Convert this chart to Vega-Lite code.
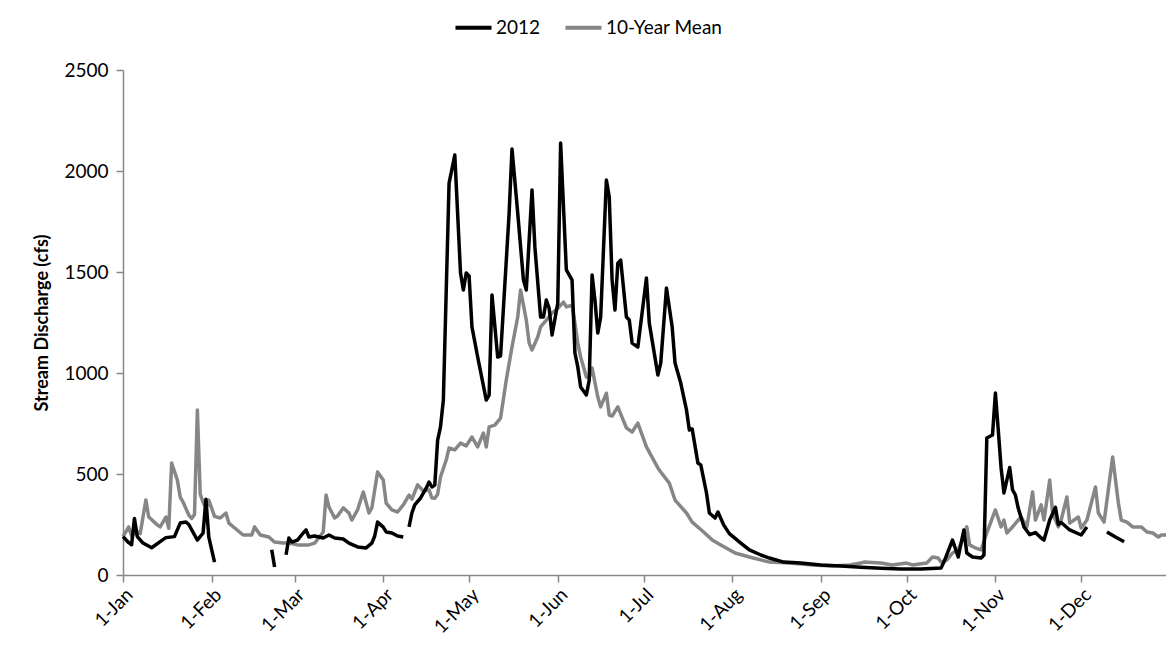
{
  "$schema": "https://vega.github.io/schema/vega-lite/v6.json",
  "width": 1044,
  "height": 505,
  "autosize": "none",
  "padding": {"left": 123, "top": 70, "right": 0, "bottom": 84},
  "background": "white",
  "config": {"font": "Lato", "view": {"stroke": null}, "axis": {"grid": false}},
  "datasets": {
    "y2012": [
      {"date":"2012-01-01","cfs":190},{"date":"2012-01-03","cfs":160},{"date":"2012-01-04","cfs":150},{"date":"2012-01-05","cfs":280},{"date":"2012-01-06","cfs":190},{"date":"2012-01-08","cfs":158},{"date":"2012-01-11","cfs":135},{"date":"2012-01-14","cfs":165},{"date":"2012-01-16","cfs":185},{"date":"2012-01-19","cfs":190},{"date":"2012-01-21","cfs":257},{"date":"2012-01-23","cfs":262},{"date":"2012-01-24","cfs":250},{"date":"2012-01-27","cfs":173},{"date":"2012-01-29","cfs":208},{"date":"2012-01-30","cfs":375},{"date":"2012-01-31","cfs":187},{"date":"2012-02-02","cfs":64},{"date":"2012-02-03","cfs":null},
      {"date":"2012-02-22","cfs":125},{"date":"2012-02-23","cfs":40},{"date":"2012-02-24","cfs":null},
      {"date":"2012-02-27","cfs":100},{"date":"2012-02-28","cfs":183},{"date":"2012-02-29","cfs":163},{"date":"2012-03-02","cfs":173},{"date":"2012-03-04","cfs":208},{"date":"2012-03-05","cfs":223},{"date":"2012-03-06","cfs":188},{"date":"2012-03-08","cfs":193},{"date":"2012-03-11","cfs":183},{"date":"2012-03-13","cfs":198},{"date":"2012-03-15","cfs":183},{"date":"2012-03-18","cfs":178},{"date":"2012-03-20","cfs":158},{"date":"2012-03-23","cfs":139},{"date":"2012-03-26","cfs":134},{"date":"2012-03-28","cfs":158},{"date":"2012-03-29","cfs":193},{"date":"2012-03-30","cfs":262},{"date":"2012-04-01","cfs":237},{"date":"2012-04-02","cfs":213},{"date":"2012-04-04","cfs":208},{"date":"2012-04-06","cfs":193},{"date":"2012-04-08","cfs":188},{"date":"2012-04-09","cfs":null},
      {"date":"2012-04-10","cfs":238},{"date":"2012-04-11","cfs":307},{"date":"2012-04-12","cfs":347},{"date":"2012-04-14","cfs":381},{"date":"2012-04-16","cfs":430},{"date":"2012-04-17","cfs":460},{"date":"2012-04-18","cfs":436},{"date":"2012-04-19","cfs":445},{"date":"2012-04-20","cfs":668},{"date":"2012-04-21","cfs":733},{"date":"2012-04-22","cfs":866},{"date":"2012-04-24","cfs":1940},{"date":"2012-04-26","cfs":2079},{"date":"2012-04-28","cfs":1495},{"date":"2012-04-29","cfs":1411},{"date":"2012-04-30","cfs":1495},{"date":"2012-05-01","cfs":1480},{"date":"2012-05-02","cfs":1228},{"date":"2012-05-04","cfs":1079},{"date":"2012-05-07","cfs":866},{"date":"2012-05-08","cfs":890},{"date":"2012-05-09","cfs":1386},{"date":"2012-05-11","cfs":1079},{"date":"2012-05-12","cfs":1085},{"date":"2012-05-15","cfs":1792},{"date":"2012-05-16","cfs":2109},{"date":"2012-05-18","cfs":1792},{"date":"2012-05-20","cfs":1460},{"date":"2012-05-21","cfs":1411},{"date":"2012-05-23","cfs":1906},{"date":"2012-05-24","cfs":1624},{"date":"2012-05-26","cfs":1277},{"date":"2012-05-27","cfs":1277},{"date":"2012-05-28","cfs":1361},{"date":"2012-05-29","cfs":1320},{"date":"2012-05-30","cfs":1188},{"date":"2012-06-01","cfs":1345},{"date":"2012-06-02","cfs":2138},{"date":"2012-06-04","cfs":1510},{"date":"2012-06-06","cfs":1460},{"date":"2012-06-07","cfs":1099},{"date":"2012-06-08","cfs":1030},{"date":"2012-06-09","cfs":931},{"date":"2012-06-11","cfs":891},{"date":"2012-06-12","cfs":965},{"date":"2012-06-13","cfs":1485},{"date":"2012-06-14","cfs":1361},{"date":"2012-06-15","cfs":1198},{"date":"2012-06-16","cfs":1277},{"date":"2012-06-18","cfs":1955},{"date":"2012-06-19","cfs":1871},{"date":"2012-06-20","cfs":1460},{"date":"2012-06-21","cfs":1312},{"date":"2012-06-22","cfs":1544},{"date":"2012-06-23","cfs":1559},{"date":"2012-06-25","cfs":1277},{"date":"2012-06-26","cfs":1262},{"date":"2012-06-27","cfs":1148},{"date":"2012-06-29","cfs":1129},{"date":"2012-07-02","cfs":1470},{"date":"2012-07-03","cfs":1247},{"date":"2012-07-06","cfs":990},{"date":"2012-07-07","cfs":1049},{"date":"2012-07-09","cfs":1421},{"date":"2012-07-11","cfs":1228},{"date":"2012-07-12","cfs":1049},{"date":"2012-07-14","cfs":950},{"date":"2012-07-16","cfs":817},{"date":"2012-07-17","cfs":718},{"date":"2012-07-18","cfs":723},{"date":"2012-07-20","cfs":554},{"date":"2012-07-21","cfs":545},{"date":"2012-07-23","cfs":406},{"date":"2012-07-24","cfs":307},{"date":"2012-07-26","cfs":282},{"date":"2012-07-27","cfs":312},{"date":"2012-07-29","cfs":248},{"date":"2012-07-31","cfs":205},{"date":"2012-08-04","cfs":158},{"date":"2012-08-07","cfs":124},{"date":"2012-08-11","cfs":99},{"date":"2012-08-14","cfs":84},{"date":"2012-08-19","cfs":64},{"date":"2012-08-25","cfs":59},{"date":"2012-09-01","cfs":50},{"date":"2012-09-08","cfs":45},{"date":"2012-09-15","cfs":38},{"date":"2012-09-22","cfs":33},{"date":"2012-09-29","cfs":30},{"date":"2012-10-06","cfs":30},{"date":"2012-10-13","cfs":35},{"date":"2012-10-14","cfs":64},{"date":"2012-10-17","cfs":173},{"date":"2012-10-19","cfs":89},{"date":"2012-10-21","cfs":223},{"date":"2012-10-22","cfs":109},{"date":"2012-10-24","cfs":89},{"date":"2012-10-27","cfs":84},{"date":"2012-10-28","cfs":99},{"date":"2012-10-29","cfs":678},{"date":"2012-10-31","cfs":693},{"date":"2012-11-01","cfs":901},{"date":"2012-11-02","cfs":718},{"date":"2012-11-03","cfs":530},{"date":"2012-11-04","cfs":406},{"date":"2012-11-06","cfs":532},{"date":"2012-11-07","cfs":421},{"date":"2012-11-08","cfs":396},{"date":"2012-11-09","cfs":330},{"date":"2012-11-11","cfs":238},{"date":"2012-11-13","cfs":200},{"date":"2012-11-15","cfs":210},{"date":"2012-11-17","cfs":183},{"date":"2012-11-18","cfs":173},{"date":"2012-11-20","cfs":272},{"date":"2012-11-22","cfs":335},{"date":"2012-11-23","cfs":250},{"date":"2012-11-24","cfs":260},{"date":"2012-11-27","cfs":223},{"date":"2012-12-01","cfs":198},{"date":"2012-12-03","cfs":238},{"date":"2012-12-04","cfs":null},
      {"date":"2012-12-10","cfs":213},{"date":"2012-12-13","cfs":188},{"date":"2012-12-16","cfs":165}
    ],
    "mean": [
      {"date":"2012-01-01","cfs":190},{"date":"2012-01-03","cfs":238},{"date":"2012-01-04","cfs":195},{"date":"2012-01-06","cfs":213},{"date":"2012-01-07","cfs":205},{"date":"2012-01-09","cfs":371},{"date":"2012-01-10","cfs":287},{"date":"2012-01-13","cfs":248},{"date":"2012-01-14","cfs":238},{"date":"2012-01-16","cfs":287},{"date":"2012-01-17","cfs":231},{"date":"2012-01-18","cfs":554},{"date":"2012-01-20","cfs":470},{"date":"2012-01-21","cfs":386},{"date":"2012-01-22","cfs":361},{"date":"2012-01-24","cfs":297},{"date":"2012-01-25","cfs":280},{"date":"2012-01-26","cfs":300},{"date":"2012-01-27","cfs":817},{"date":"2012-01-28","cfs":400},{"date":"2012-01-29","cfs":360},{"date":"2012-01-30","cfs":330},{"date":"2012-01-31","cfs":371},{"date":"2012-02-02","cfs":290},{"date":"2012-02-04","cfs":282},{"date":"2012-02-06","cfs":307},{"date":"2012-02-07","cfs":257},{"date":"2012-02-12","cfs":198},{"date":"2012-02-15","cfs":198},{"date":"2012-02-16","cfs":238},{"date":"2012-02-18","cfs":198},{"date":"2012-02-21","cfs":188},{"date":"2012-02-23","cfs":163},{"date":"2012-02-26","cfs":158},{"date":"2012-02-28","cfs":158},{"date":"2012-03-02","cfs":149},{"date":"2012-03-06","cfs":149},{"date":"2012-03-08","cfs":158},{"date":"2012-03-11","cfs":213},{"date":"2012-03-12","cfs":396},{"date":"2012-03-13","cfs":337},{"date":"2012-03-15","cfs":282},{"date":"2012-03-16","cfs":292},{"date":"2012-03-18","cfs":332},{"date":"2012-03-20","cfs":307},{"date":"2012-03-21","cfs":272},{"date":"2012-03-23","cfs":322},{"date":"2012-03-25","cfs":411},{"date":"2012-03-27","cfs":307},{"date":"2012-03-28","cfs":332},{"date":"2012-03-30","cfs":510},{"date":"2012-04-01","cfs":470},{"date":"2012-04-02","cfs":356},{"date":"2012-04-04","cfs":322},{"date":"2012-04-06","cfs":312},{"date":"2012-04-08","cfs":347},{"date":"2012-04-10","cfs":396},{"date":"2012-04-11","cfs":376},{"date":"2012-04-13","cfs":446},{"date":"2012-04-15","cfs":416},{"date":"2012-04-17","cfs":421},{"date":"2012-04-18","cfs":381},{"date":"2012-04-19","cfs":380},{"date":"2012-04-20","cfs":400},{"date":"2012-04-21","cfs":485},{"date":"2012-04-23","cfs":569},{"date":"2012-04-24","cfs":629},{"date":"2012-04-26","cfs":619},{"date":"2012-04-28","cfs":653},{"date":"2012-04-30","cfs":639},{"date":"2012-05-02","cfs":683},{"date":"2012-05-04","cfs":634},{"date":"2012-05-06","cfs":703},{"date":"2012-05-07","cfs":634},{"date":"2012-05-08","cfs":733},{"date":"2012-05-10","cfs":742},{"date":"2012-05-12","cfs":777},{"date":"2012-05-14","cfs":965},{"date":"2012-05-16","cfs":1129},{"date":"2012-05-18","cfs":1277},{"date":"2012-05-19","cfs":1411},{"date":"2012-05-21","cfs":1262},{"date":"2012-05-22","cfs":1148},{"date":"2012-05-23","cfs":1114},{"date":"2012-05-25","cfs":1178},{"date":"2012-05-26","cfs":1228},{"date":"2012-05-28","cfs":1262},{"date":"2012-05-30","cfs":1297},{"date":"2012-06-01","cfs":1320},{"date":"2012-06-03","cfs":1351},{"date":"2012-06-04","cfs":1327},{"date":"2012-06-06","cfs":1336},{"date":"2012-06-07","cfs":1247},{"date":"2012-06-08","cfs":1148},{"date":"2012-06-09","cfs":1079},{"date":"2012-06-11","cfs":980},{"date":"2012-06-12","cfs":975},{"date":"2012-06-13","cfs":1025},{"date":"2012-06-15","cfs":881},{"date":"2012-06-16","cfs":832},{"date":"2012-06-18","cfs":900},{"date":"2012-06-19","cfs":792},{"date":"2012-06-20","cfs":787},{"date":"2012-06-22","cfs":832},{"date":"2012-06-25","cfs":728},{"date":"2012-06-27","cfs":708},{"date":"2012-06-29","cfs":752},{"date":"2012-07-02","cfs":634},{"date":"2012-07-06","cfs":530},{"date":"2012-07-07","cfs":510},{"date":"2012-07-10","cfs":455},{"date":"2012-07-12","cfs":371},{"date":"2012-07-16","cfs":307},{"date":"2012-07-18","cfs":262},{"date":"2012-07-22","cfs":213},{"date":"2012-07-25","cfs":173},{"date":"2012-07-28","cfs":149},{"date":"2012-08-02","cfs":109},{"date":"2012-08-07","cfs":89},{"date":"2012-08-14","cfs":64},{"date":"2012-08-21","cfs":59},{"date":"2012-08-29","cfs":50},{"date":"2012-09-05","cfs":45},{"date":"2012-09-11","cfs":50},{"date":"2012-09-15","cfs":59},{"date":"2012-09-16","cfs":64},{"date":"2012-09-22","cfs":59},{"date":"2012-09-26","cfs":50},{"date":"2012-10-01","cfs":59},{"date":"2012-10-03","cfs":50},{"date":"2012-10-08","cfs":59},{"date":"2012-10-10","cfs":89},{"date":"2012-10-12","cfs":84},{"date":"2012-10-13","cfs":64},{"date":"2012-10-15","cfs":74},{"date":"2012-10-17","cfs":109},{"date":"2012-10-19","cfs":124},{"date":"2012-10-20","cfs":158},{"date":"2012-10-22","cfs":238},{"date":"2012-10-23","cfs":149},{"date":"2012-10-25","cfs":134},{"date":"2012-10-27","cfs":124},{"date":"2012-10-29","cfs":208},{"date":"2012-11-01","cfs":322},{"date":"2012-11-03","cfs":238},{"date":"2012-11-04","cfs":272},{"date":"2012-11-05","cfs":208},{"date":"2012-11-07","cfs":238},{"date":"2012-11-09","cfs":272},{"date":"2012-11-10","cfs":287},{"date":"2012-11-12","cfs":238},{"date":"2012-11-14","cfs":411},{"date":"2012-11-15","cfs":272},{"date":"2012-11-17","cfs":347},{"date":"2012-11-18","cfs":272},{"date":"2012-11-20","cfs":470},{"date":"2012-11-21","cfs":307},{"date":"2012-11-23","cfs":238},{"date":"2012-11-24","cfs":272},{"date":"2012-11-26","cfs":386},{"date":"2012-11-27","cfs":257},{"date":"2012-11-30","cfs":287},{"date":"2012-12-01","cfs":233},{"date":"2012-12-03","cfs":272},{"date":"2012-12-06","cfs":436},{"date":"2012-12-07","cfs":307},{"date":"2012-12-09","cfs":262},{"date":"2012-12-12","cfs":584},{"date":"2012-12-14","cfs":356},{"date":"2012-12-15","cfs":272},{"date":"2012-12-17","cfs":262},{"date":"2012-12-19","cfs":238},{"date":"2012-12-22","cfs":238},{"date":"2012-12-24","cfs":213},{"date":"2012-12-26","cfs":208},{"date":"2012-12-28","cfs":188},{"date":"2012-12-29","cfs":198},{"date":"2012-12-31","cfs":198}
    ]
  },
  "encoding": {
    "x": {
      "field": "date",
      "type": "temporal",
      "scale": {"type": "utc", "domain": [{"year": 2012, "month": 1, "date": 1, "utc": true}, {"year": 2012, "month": 12, "date": 31, "utc": true}]},
      "axis": {
        "title": null,
        "labelExpr": "utcFormat(datum.value, '%-d-%b')",
        "tickCount": {"interval": "month", "step": 1},
        "labelAngle": -45,
        "labelAlign": "right",
        "labelBaseline": "top",
        "labelFontSize": 19,
        "labelColor": "#000000",
        "labelPadding": 3,
        "labelOverlap": false,
        "labelFlush": false,
        "domainColor": "#888888",
        "domainWidth": 1.5,
        "tickColor": "#888888",
        "tickSize": 7,
        "tickWidth": 1.5
      }
    },
    "y": {
      "field": "cfs",
      "type": "quantitative",
      "scale": {"domain": [0, 2500], "nice": false},
      "axis": {
        "title": "Stream Discharge (cfs)",
        "titleFontSize": 18,
        "titleFontWeight": "bold",
        "titleColor": "#000000",
        "titlePadding": 12,
        "values": [0, 500, 1000, 1500, 2000, 2500],
        "format": "d",
        "labelFontSize": 19,
        "labelColor": "#000000",
        "labelPadding": 8,
        "domainColor": "#888888",
        "domainWidth": 1.5,
        "tickColor": "#888888",
        "tickSize": 7,
        "tickWidth": 1.5
      }
    },
    "color": {
      "field": "series",
      "type": "nominal",
      "scale": {"domain": ["2012", "10-Year Mean"], "range": ["#000000", "#868686"]},
      "legend": {
        "orient": "none",
        "legendX": 330,
        "legendY": -63,
        "direction": "horizontal",
        "title": null,
        "symbolType": "stroke",
        "symbolStrokeWidth": 4,
        "symbolSize": 1300,
        "labelFontSize": 19,
        "labelColor": "#000000",
        "labelOffset": 2,
        "columnPadding": 16
      }
    }
  },
  "layer": [
    {
      "data": {"name": "mean"},
      "transform": [{"calculate": "'10-Year Mean'", "as": "series"}],
      "mark": {"type": "line", "strokeWidth": 3.5, "strokeJoin": "round"}
    },
    {
      "data": {"name": "y2012"},
      "transform": [{"calculate": "'2012'", "as": "series"}],
      "mark": {"type": "line", "strokeWidth": 3.5, "strokeJoin": "round"}
    }
  ]
}
